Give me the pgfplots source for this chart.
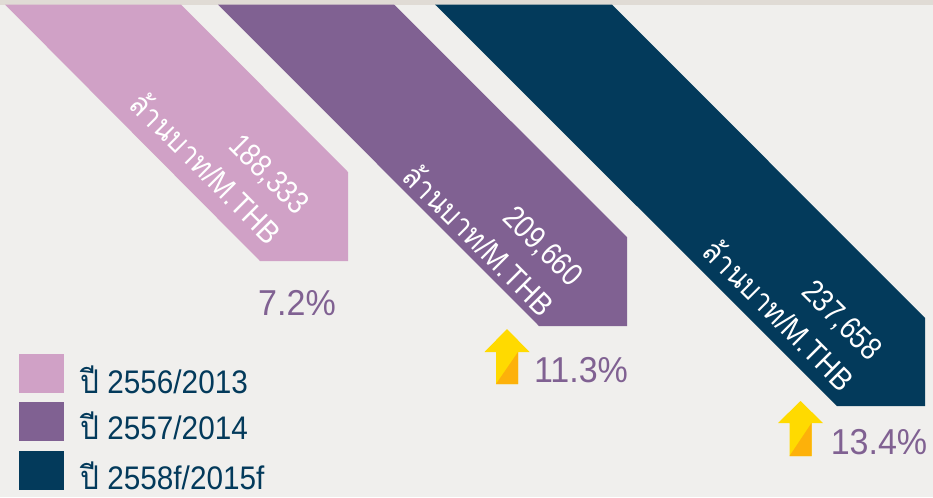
\documentclass[border=0pt]{standalone}
\usepackage{fontspec}
\setmainfont{Liberation Sans}
\newfontfamily\thaifont[Script=Thai]{Loma}
\usepackage{pgfplots}
\pgfplotsset{compat=1.18}

\definecolor{pagebg}{HTML}{F0EFED}
\definecolor{topband}{HTML}{E0DBD5}
\definecolor{pinkbar}{HTML}{D0A1C6}
\definecolor{purplebar}{HTML}{806192}
\definecolor{navybar}{HTML}{033A5B}
\definecolor{arrowy}{HTML}{FFDA00}
\definecolor{arrowo}{HTML}{FDB10A}

% 1 px of the reference = 0.75pt
\newcommand{\valfont}{\fontsize{24}{28}\selectfont}
\newcommand{\unitfont}{\fontsize{23.5}{28}\selectfont}
\newcommand{\pctfont}{\fontsize{27}{32}\selectfont}
\newcommand{\legfont}{\fontsize{24.5}{29}\selectfont}
\newcommand{\unitlabel}{{\thaifont ล้านบาท}/M.THB}

\tikzset{
  val/.style={rotate=-45, xscale=0.84, text=white, font=\valfont},
  unit/.style={rotate=-45, xscale=0.89, text=white, font=\unitfont},
  pct/.style={xscale=0.945, text=purplebar, font=\pctfont, inner sep=0pt},
  leg/.style={xscale=0.91, anchor=base west, inner sep=0pt, text=navybar, font=\legfont},
}

\begin{document}
\begin{tikzpicture}
\begin{axis}[
  scale only axis, width=699.75pt, height=372.75pt,
  xmin=0, xmax=933, ymin=0, ymax=497, y dir=reverse,
  hide axis, clip=true,
  every axis plot/.append style={draw=none, mark=none, line width=0pt},
]
% page
\addplot[fill=pagebg] coordinates {(0,0) (933,0) (933,497) (0,497)} -- cycle;
\addplot[fill=topband] coordinates {(0,0) (933,0) (933,4.5) (0,4.5)} -- cycle;

% ribbons
\addplot[fill=pinkbar] coordinates {(5,4.5) (181,4.5) (348,172) (348,261) (260,261)} -- cycle;
\addplot[fill=purplebar] coordinates {(218,4.5) (394,4.5) (627,237) (627,326) (539,326)} -- cycle;
\addplot[fill=navybar] coordinates {(435,4.5) (612,4.5) (925,318) (925,406) (837,406)} -- cycle;

% arrows
\addplot[fill=arrowy] coordinates {(507,329) (529.5,352) (518,352) (518,384) (496,384) (496,352) (484.5,352)} -- cycle;
\addplot[fill=arrowo] coordinates {(496,384) (518,352) (518,384)} -- cycle;
\addplot[fill=arrowy] coordinates {(800.5,401) (823,423) (811.5,423) (811.5,456) (789.5,456) (789.5,423) (778,423)} -- cycle;
\addplot[fill=arrowo] coordinates {(789.5,456) (811.5,423) (811.5,456)} -- cycle;

% legend swatches
\addplot[fill=pinkbar] coordinates {(19,354) (64,354) (64,393) (19,393)} -- cycle;
\addplot[fill=purplebar] coordinates {(19,402) (64,402) (64,441) (19,441)} -- cycle;
\addplot[fill=navybar] coordinates {(19,451) (64,451) (64,490) (19,490)} -- cycle;

% ribbon labels
\node[val] at (axis cs:268,175) {188,333};
\node[unit] at (axis cs:207,167) {\unitlabel};
\node[val] at (axis cs:542,247) {209,660};
\node[unit] at (axis cs:480,239) {\unitlabel};
\node[val] at (axis cs:841,321) {237,658};
\node[unit] at (axis cs:780,314) {\unitlabel};

% growth
\node[pct] at (axis cs:297,303) {7.2\%};
\node[pct] at (axis cs:581,370) {11.3\%};
\node[pct] at (axis cs:879,442) {13.4\%};

% legend text
\node[leg] at (axis cs:80,393) {{\thaifont ปี} 2556/2013};
\node[leg] at (axis cs:80,439) {{\thaifont ปี} 2557/2014};
\node[leg] at (axis cs:80,489) {{\thaifont ปี} 2558f/2015f};
\end{axis}
\end{tikzpicture}
\end{document}
